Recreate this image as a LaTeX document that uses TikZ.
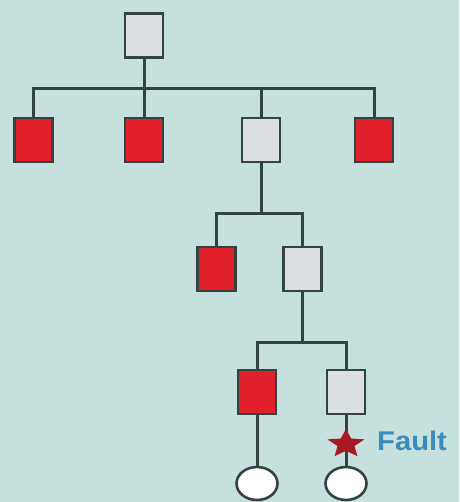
\documentclass[tikz,border=0pt]{standalone}
\usepackage{fontspec}
\setmainfont{Liberation Sans}
\usetikzlibrary{shapes.geometric}
\definecolor{bg}{HTML}{C6E1DD}
\definecolor{relayred}{HTML}{E0202A}
\definecolor{boxgray}{HTML}{D9DFE3}
\definecolor{wire}{HTML}{354242}
\definecolor{faultblue}{HTML}{3A8CBE}
\tikzset{
  unit/.style={rectangle, draw=wire, line width=2.6pt, minimum width=38pt, minimum height=44pt, inner sep=0pt},
  tripped/.style={unit, fill=relayred},
  closed/.style={unit, fill=boxgray},
  load/.style={ellipse, draw=wire, line width=2.6pt, fill=white, minimum width=41pt, minimum height=33pt, inner sep=0pt},
  wire/.style={draw=wire, line width=3pt},
  faultstar/.style={star, star points=5, star point ratio=2.2, fill=relayred!75!black, minimum size=30pt, inner sep=0pt, xscale=1.3}
}
\begin{document}
\begin{tikzpicture}[x=1pt, y=-1pt]
  \fill[bg] (0,0) rectangle (459,502);
  \useasboundingbox (0,0) rectangle (459,502);

  % buses
  \coordinate (j1) at (144,89);
  \coordinate (j2) at (261,214);
  \coordinate (j3) at (302.5,342);

  % units
  \node[closed]  (root) at (144,35.5) {};
  \node[tripped] (a1) at (33.5,140) {};
  \node[tripped] (a2) at (144,140) {};
  \node[closed]  (a3) at (261,140) {};
  \node[tripped] (a4) at (374,140) {};
  \node[tripped] (b1) at (216.5,269) {};
  \node[closed]  (b2) at (302.5,269) {};
  \node[tripped] (c1) at (257,392) {};
  \node[closed]  (c2) at (346,392) {};
  \node[load]    (e1) at (257,483.5) {};
  \node[load]    (e2) at (346,483.5) {};

  % connections
  \draw[wire] (root.south) -- (a2.north);
  \draw[wire] (a1.north) |- (j1) -| (a4.north);
  \draw[wire] (a3.north) -- (a3.north |- j1);
  \draw[wire] (a3.south) -- (j2);
  \draw[wire] (b1.north) |- (j2) -| (b2.north);
  \draw[wire] (b2.south) -- (j3);
  \draw[wire] (c1.north) |- (j3) -| (c2.north);
  \draw[wire] (c1.south) -- (e1.north);
  \draw[wire] (c2.south) -- (e2.north);

  % fault marker
  \node[faultstar] (f) at (346,444) {};
  \node[anchor=west, text=faultblue, font=\bfseries\fontsize{27}{30}\selectfont, xscale=1.08, inner sep=0pt] (ft) at (377,441) {Fault};
\end{tikzpicture}
\end{document}
